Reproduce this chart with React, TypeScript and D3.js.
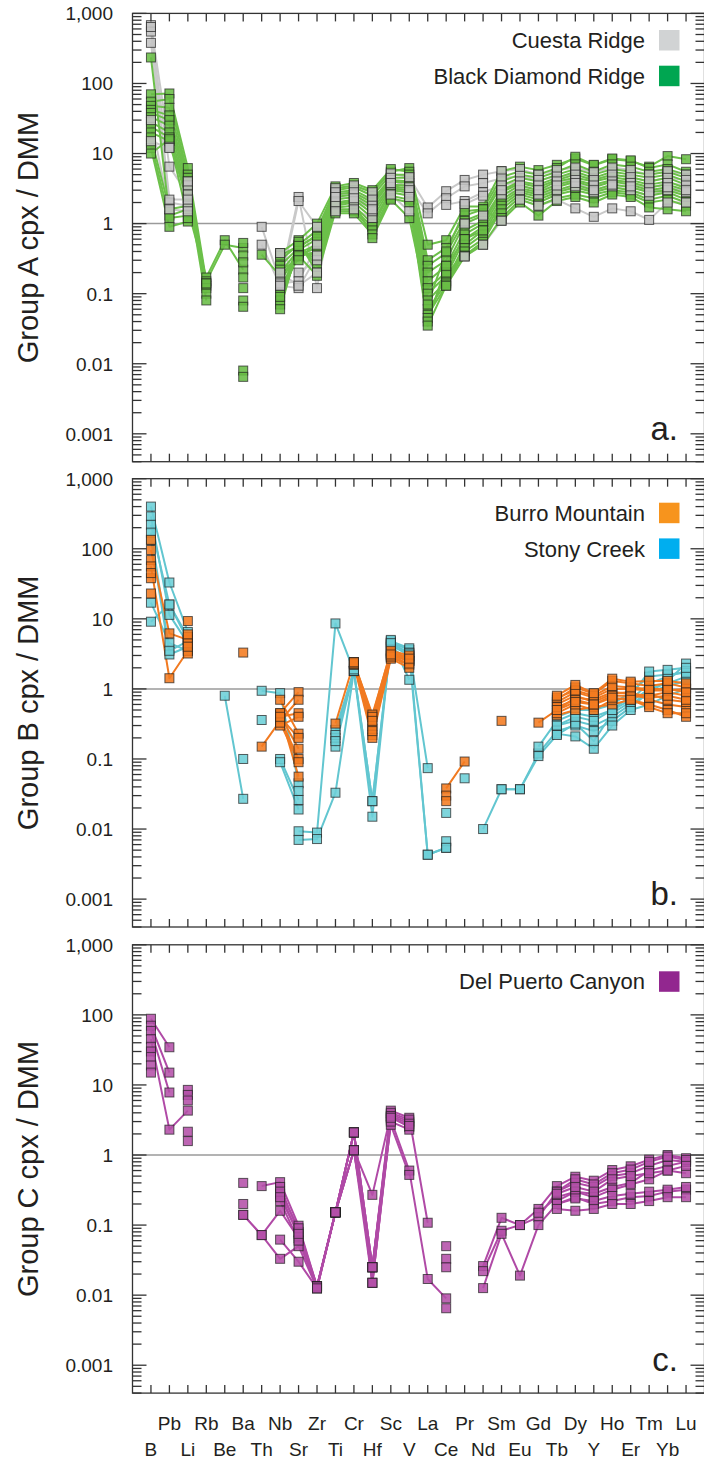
import React from "react";
import * as d3 from "d3";

// Clinopyroxene trace-element patterns normalised to depleted MORB mantle (DMM)
const _ = null;

const ELEMENTS = ["B", "Pb", "Li", "Rb", "Be", "Ba", "Th", "Nb", "Sr", "Zr", "Ti", "Cr", "Hf", "Sc", "V",
  "La", "Ce", "Pr", "Nd", "Sm", "Eu", "Gd", "Tb", "Dy", "Y", "Ho", "Er", "Tm", "Yb", "Lu"];

const Y_TICKS = [1000, 100, 10, 1, 0.1, 0.01, 0.001];
const Y_TICK_LABELS = ["1,000", "100", "10", "1", "0.1", "0.01", "0.001"];

// Group A
const CUESTA_RIDGE: (number | null)[][] = [
  [680, 12.5, 3.5, _, _, _, 0.9, 0.15, 2.4, 0.12, 3.2, 3.5, 2.8, 5.2, 4.6, 1.7, 2.9, 4.2, 5.0, 5.6, 6.0, 5.0, 5.8, 6.3, 5.4, 6.3, 5.8, 5.0, 5.6, 5.0],
  [550, 6.5, 2.6, _, _, _, 0.5, 0.13, 2.1, 0.9, 2.6, 2.6, 2.2, 4.2, 3.3, 1.4, 2.3, 3.4, 3.8, 4.4, 4.8, 4.2, 4.7, 5.0, 4.2, 5.0, 4.6, 4.0, 4.5, 4.2],
  [380, 2.0, 1.8, _, _, _, _, 0.38, 0.2, 0.3, 2.0, 2.1, 1.8, 3.6, 2.8, _, 1.85, 2.1, 2.8, 3.5, 4.0, 3.5, 4.0, 4.2, 3.5, 4.0, 3.8, 3.2, 3.8, 3.5],
  [30, 1.6, 1.5, _, _, _, _, 0.14, 0.15, 0.5, 1.5, 1.6, 1.2, 2.6, 1.5, _, _, 0.34, 0.5, 1.1, 2.2, 1.8, 2.2, 1.65, 1.25, 1.65, 1.5, 1.13, 2.0, 2.0],
  [15, 12, 4.0, _, _, _, _, 0.13, 0.12, 0.35, 2.8, 2.8, 1.5, 4.5, 3.0, _, _, 1.0, 1.3, 2.6, 3.0, 2.6, 3.0, 3.4, 2.8, 3.4, 3.0, 2.5, 3.0, 2.8],
  [640, 2.2, 2.2, _, _, _, _, 0.2, 0.13, 0.2, 2.4, 2.3, 1.6, 3.8, 2.4, _, _, 1.9, 2.5, 3.0, 3.5, 3.0, 3.5, 3.8, 3.0, 3.6, 3.4, 2.8, 3.3, 3.0],
];

const BLACK_DIAMOND_RIDGE: (number | null)[][] = [
  [235, 1.3, 1.6, 0.17, 0.58, 0.22, _, 0.3, 0.5, 0.8, 3.2, 3.5, 2.8, 5.5, 6.2, 0.5, 0.58, 1.75, 1.75, 5.6, 6.5, 5.8, 6.9, 8.5, 6.8, 8.3, 7.8, 6.5, 9.2, 8.3],
  [70, 72, 6.2, 0.15, 0.5, 0.45, _, 0.38, 0.58, 1.0, 3.4, 3.8, 3.0, 6.0, 5.5, 0.3, 0.45, 1.3, 1.6, 4.6, 5.6, 5.0, 6.2, 9.0, 6.9, 8.5, 8.0, 6.2, 7.0, 5.5],
  [55, 60, 5.0, 0.13, _, 0.53, _, 0.25, 0.45, 0.7, 3.0, 3.3, 2.5, 5.0, 5.0, 0.25, 0.38, 1.1, 1.4, 4.0, 5.0, 4.5, 5.5, 7.0, 5.5, 7.0, 6.5, 5.5, 6.0, 5.0],
  [48, 45, 4.5, 0.14, _, 0.35, _, 0.2, 0.42, 0.6, 2.8, 3.0, 2.2, 4.5, 4.5, 0.2, 0.3, 1.0, 1.3, 3.5, 4.5, 4.0, 5.0, 6.0, 5.0, 6.0, 5.5, 5.0, 5.5, 4.5],
  [42, 35, 4.0, 0.12, _, 0.28, _, 0.15, 0.38, 0.5, 2.6, 2.8, 2.0, 4.2, 4.0, 0.15, 0.25, 0.8, 1.1, 3.0, 4.0, 3.6, 4.5, 5.5, 4.5, 5.5, 5.0, 4.5, 5.0, 4.0],
  [38, 30, 3.5, 0.1, _, 0.17, _, 0.12, 0.36, 0.45, 2.4, 2.6, 1.8, 4.0, 3.8, 0.12, 0.2, 0.7, 1.0, 2.8, 3.8, 3.3, 4.2, 5.0, 4.2, 5.0, 4.6, 4.0, 4.5, 3.6],
  [33, 25, 3.0, 0.08, _, 0.12, _, 0.1, 0.34, 0.4, 2.2, 2.4, 1.6, 3.6, 3.5, 0.1, 0.18, 0.6, 0.9, 2.5, 3.5, 3.0, 4.0, 4.5, 4.0, 4.6, 4.2, 3.6, 4.0, 3.2],
  [28, 20, 2.7, 0.14, _, 0.08, _, 0.08, 0.4, 0.35, 2.0, 2.2, 1.4, 3.4, 3.2, 0.08, 0.15, 0.5, 0.8, 2.2, 3.2, 2.8, 3.6, 4.2, 3.6, 4.2, 3.9, 3.3, 3.6, 3.0],
  [24, 17, 2.3, _, _, 0.065, _, 0.07, 0.45, 0.3, 1.8, 2.0, 1.2, 3.2, 3.0, 0.06, 0.14, 0.45, 0.7, 2.0, 3.0, 2.6, 3.3, 4.0, 3.3, 4.0, 3.6, 3.0, 3.3, 2.7],
  [20, 15, 2.0, _, _, 0.008, _, 0.06, 0.5, 0.25, 1.7, 1.8, 1.0, 3.0, 2.8, 0.05, 0.13, 0.4, 0.6, 1.8, 2.8, 2.4, 3.0, 3.6, 3.0, 3.6, 3.3, 2.8, 3.0, 2.5],
  [17, 1.6, 1.8, _, _, 0.0065, _, 0.09, 0.55, 0.2, 1.6, 1.6, 0.9, 2.8, 2.5, 0.045, 0.2, 0.35, 0.55, 1.6, 2.6, 2.2, 2.8, 3.3, 2.8, 3.3, 3.0, 2.5, 2.8, 2.2],
  [14, 1.2, 1.3, _, _, _, 0.36, 0.18, 0.35, 0.18, 1.5, 1.5, 0.8, 2.5, 2.2, 0.04, 0.25, 0.6, 0.8, 1.4, 2.4, 2.0, 2.6, 3.0, 2.6, 3.0, 2.8, 2.2, 2.5, 2.0],
  [12, 0.9, 1.07, _, _, _, _, 0.22, 0.3, 0.55, 1.4, 1.4, 0.7, 2.3, 2.0, 0.035, 0.13, 0.34, 0.5, 1.2, 2.2, 1.8, 2.3, 2.6, 2.3, 2.8, 2.6, 2.0, 2.2, 1.8],
  [10, 16, 1.2, _, _, _, _, 0.35, 0.48, 0.65, 1.9, 2.1, 0.62, 2.2, 1.2, 0.07, 0.4, 1.5, 1.6, 1.1, 2.0, 1.3, 2.1, 2.4, 2.0, 2.6, 2.4, 1.7, 1.6, 1.5],
];

// Group B
const BURRO_MOUNTAIN: (number | null)[][] = [
  [134, _, _, _, _, 3.3, _, 0.45, 0.9, _, 0.32, 2.4, 0.43, 3.3, 2.8, _, 0.038, 0.092, _, 0.35, _, 0.33, 0.5, 0.75, 0.7, 0.9, 0.85, 0.8, 0.9, 0.8],
  [96, 6.2, 5.0, _, _, _, 0.15, 0.35, 0.7, _, _, 2.3, 0.27, 3.0, 2.5, _, 0.03, _, _, _, _, _, 0.7, 1.05, 0.85, 1.3, 1.2, 1.1, 1.2, 1.05],
  [69, _, 5.5, _, _, _, _, 0.4, 0.45, _, _, 2.4, 0.22, 2.8, 2.2, _, 0.025, _, _, _, _, _, 0.6, 0.8, 0.65, 0.85, 0.9, 0.7, 0.6, 0.55],
  [56, 1.42, 3.5, _, _, _, _, 0.3, 0.4, _, _, 2.2, 0.2, 2.7, 2.0, _, _, _, _, _, _, _, 0.42, 0.5, 0.55, 0.6, 0.7, 0.6, 0.5, 0.4],
  [38, _, 9.3, _, _, _, _, 0.7, 0.23, _, _, 2.3, 0.3, 3.2, 2.6, _, _, _, _, _, _, _, 0.45, 0.6, 0.5, 0.7, 0.75, 0.85, 0.7, 0.65],
  [23, _, 4.5, _, _, _, _, 0.42, 0.14, _, _, 2.4, 0.4, 3.5, 3.0, _, _, _, _, _, _, _, 0.65, 0.9, 0.75, 1.0, 1.0, 0.95, 0.95, 1.0],
  [45, _, 6.0, _, _, _, _, 0.38, 0.1, _, _, 2.3, 0.25, 2.9, 2.3, _, _, _, _, _, _, _, 0.55, 0.7, 0.6, 0.8, 0.8, 0.75, 0.8, 0.7],
  [_, _, 3.2, _, _, _, _, 0.45, 0.056, _, _, 2.4, 0.35, 3.1, 2.7, _, _, _, _, _, _, _, 0.75, 0.95, 0.8, 1.1, 1.05, 1.0, 1.0, 0.9],
  [_, _, 4.0, _, _, _, _, 0.33, 0.09, _, _, _, _, _, _, _, _, _, _, _, _, _, 0.8, 1.14, 0.87, 1.4, 1.27, 1.3, 1.3, 1.2],
  [_, _, _, _, _, _, _, 0.4, 0.2, _, _, _, _, _, _, _, _, _, _, _, _, _, 0.5, 0.65, 0.6, 0.75, 0.7, 0.55, 0.45, 0.45],
];

const STONY_CREEK: (number | null)[][] = [
  [400, 33, 6.5, _, _, _, _, _, 0.0093, 0.0089, 8.6, 1.8, 0.025, 4.6, 3.6, 0.074, _, 0.053, _, _, _, _, 0.3, 0.35, 0.3, 0.4, 0.6, 0.9, 1.1, 1.3],
  [290, 11.4, 4.5, _, _, _, 0.94, 0.87, 0.045, _, 0.26, 1.8, 0.015, 4.8, 3.8, 0.0043, 0.0054, _, 0.01, 0.037, 0.037, 0.12, 0.25, 0.3, 0.25, 0.35, 0.55, 0.9, 1.3, 2.3],
  [220, 16, 5.5, _, 0.8, 0.027, _, 0.1, 0.026, _, 0.2, 1.8, _, 4.2, 3.0, _, _, _, _, _, _, 0.15, 0.35, 0.45, 0.4, 0.5, 0.7, 1.2, 1.5, 1.8],
  [134, 3.1, 4.0, _, _, 0.1, _, 0.09, 0.019, _, 0.15, 1.8, _, 4.0, 2.5, _, 0.0067, _, _, _, _, _, 0.23, 0.21, 0.14, 0.3, 0.5, 0.6, 0.8, 1.0],
  [17, 4.5, 3.5, _, _, _, 0.36, _, 0.007, 0.0072, 0.033, 1.8, 0.025, 4.4, 3.3, _, 0.017, _, _, 0.037, 0.037, 0.11, 0.22, 0.32, 0.18, 0.45, 0.65, 1.0, 1.2, 1.5],
  [9.1, 16, 5.0, _, _, _, _, _, 0.035, _, 0.22, 1.8, _, 5.0, 1.35, _, _, _, _, _, _, _, 0.4, 0.5, 0.5, 0.6, 0.9, 1.5, 1.6, 1.7],
  [170, 3.5, 4.8, _, _, _, _, _, _, _, 0.18, 1.9, _, 4.5, 3.2, 0.0043, 0.0054, _, _, _, _, _, 0.3, 0.4, 0.35, 0.5, 0.8, 1.77, 1.87, 2.0],
];

// Group C
const DEL_PUERTO_CANYON: (number | null)[][] = [
  [88, 34.5, _, _, _, _, 0.36, 0.41, 0.098, 0.0133, 0.152, 2.1, 0.025, 4.3, 3.4, 0.108, _, _, 0.026, 0.127, 0.1, 0.17, 0.36, 0.49, 0.43, 0.61, 0.69, 0.86, 1.0, 0.9],
  [70, 15, _, _, _, 0.14, 0.072, 0.16, 0.065, 0.0133, 0.152, 1.17, 0.27, 3.8, 3.0, _, 0.05, _, 0.022, 0.083, 0.1, 0.13, 0.3, 0.4, 0.35, 0.5, 0.55, 0.7, 0.85, 0.8],
  [59, 7.8, _, _, _, 0.14, 0.072, 0.033, 0.05, 0.0125, 0.152, 1.17, 0.015, 3.2, 0.6, 0.017, 0.009, _, 0.0126, 0.075, 0.019, 0.1, 0.2, 0.25, 0.2, 0.22, 0.25, 0.26, 0.3, 0.32],
  [45, 2.3, 4.3, _, _, _, _, 0.35, 0.08, 0.0133, 0.152, 2.1, 0.025, 2.7, 0.52, _, 0.0065, _, _, _, _, 0.15, 0.25, 0.3, 0.28, 0.35, 0.4, 0.6, 0.7, 0.8],
  [35, _, 8.5, _, _, 0.4, _, 0.28, 0.07, 0.0133, 0.152, 2.1, 0.025, 4.0, 3.2, _, 0.033, _, _, _, _, _, 0.22, 0.3, 0.25, 0.32, 0.38, 0.45, 0.6, 0.55],
  [30, _, 7.2, _, _, 0.2, _, 0.22, 0.06, 0.0133, 0.152, 1.17, 0.025, 3.5, 2.5, _, 0.025, _, _, _, _, _, 0.2, 0.24, 0.22, 0.26, 0.28, 0.3, 0.32, 0.35],
  [25, _, 6.0, _, _, _, _, 0.062, 0.03, 0.0125, 0.152, 2.1, 0.015, 3.0, 2.3, _, _, _, _, _, _, _, 0.17, 0.16, 0.17, 0.2, 0.2, 0.22, 0.25, 0.25],
  [19, _, 2.15, _, _, _, _, 0.3, 0.09, 0.0133, 0.152, 1.17, 0.025, 3.6, 2.8, _, _, _, _, _, _, _, 0.3, 0.45, 0.38, 0.55, 0.62, 0.8, 0.95, 0.85],
  [15, _, 1.58, _, _, _, _, 0.25, 0.075, 0.0125, 0.152, 2.1, 0.015, 3.4, 2.6, _, _, _, _, _, _, _, 0.28, 0.35, 0.3, 0.45, 0.5, 0.55, 0.6, 0.7],
];

type Series = { name: string; swatch: string; line: string; fill: string; data: (number | null)[][] };

const FONT = "'Liberation Sans', Arial, Helvetica, sans-serif";
const INK = "#231f20";

const X0 = 132.5;
const X1 = 704.5;
const PANEL_H = 448.3;

const x = d3.scaleLinear().domain([-1, 30]).range([X0, X1]);

const panels: {
  top: number; title: string; letter: string; legendTop: number;
  lineOrder: Series[]; markerOrder: Series[]; legend: Series[];
}[] = (() => {
  const cuesta: Series = { name: "Cuesta Ridge", swatch: "#d1d3d4", line: "#c9c9c9", fill: "#c4c4c4", data: CUESTA_RIDGE };
  const bdr: Series = { name: "Black Diamond Ridge", swatch: "#00a651", line: "#6cc04a", fill: "#69bd45", data: BLACK_DIAMOND_RIDGE };
  const burro: Series = { name: "Burro Mountain", swatch: "#f7941d", line: "#f17a21", fill: "#f47b20", data: BURRO_MOUNTAIN };
  const stony: Series = { name: "Stony Creek", swatch: "#00aeef", line: "#62c6d0", fill: "#6ccfd7", data: STONY_CREEK };
  const dpc: Series = { name: "Del Puerto Canyon", swatch: "#92278f", line: "#b04aa6", fill: "#b450a8", data: DEL_PUERTO_CANYON };
  return [
    { top: 13.4, title: "Group A cpx / DMM", letter: "a.", legendTop: 16.6, lineOrder: [cuesta, bdr], markerOrder: [bdr, cuesta], legend: [cuesta, bdr] },
    { top: 478.7, title: "Group B cpx / DMM", letter: "b.", legendTop: 24, lineOrder: [stony, burro], markerOrder: [stony, burro], legend: [burro, stony] },
    { top: 944.8, title: "Group C cpx / DMM", letter: "c.", legendTop: 26.5, lineOrder: [dpc], markerOrder: [dpc], legend: [dpc] },
  ];
})();

const MINOR_TICKS: number[] = [];
for (let k = -4; k <= 2; k++) {
  for (let m = 2; m <= 9; m++) {
    const v = m * Math.pow(10, k);
    if (v >= 0.0004 && v < 1000) MINOR_TICKS.push(v);
  }
}

function Panel({ p }: { p: (typeof panels)[number] }) {
  const y = d3.scaleLog().domain([0.0004, 1000]).range([p.top + PANEL_H, p.top]);
  const bottom = p.top + PANEL_H;
  const line = d3
    .line<number | null>()
    .defined((v) => v != null)
    .x((_v, i) => x(i))
    .y((v) => y(v as number));
  const markerSize = 9;

  return (
    <g>
      {/* reference line at unity */}
      <line x1={X0} x2={X1} y1={y(1)} y2={y(1)} stroke="#9a9a9a" strokeWidth={1.5} />

      {/* sample profiles */}
      {p.lineOrder.map((s) => (
        <g key={s.name + "-lines"} fill="none" stroke={s.line} strokeWidth={2} strokeLinejoin="round">
          {s.data.map((row, i) => (
            <path key={i} d={line(row) || ""} />
          ))}
        </g>
      ))}
      {p.markerOrder.map((s) => (
        <g key={s.name + "-pts"} fill={s.fill} fillOpacity={0.88} stroke="#1e1e1e" strokeOpacity={0.7} strokeWidth={1}>
          {s.data.map((row, i) =>
            row.map((v, j) =>
              v == null ? null : (
                <rect key={i + "-" + j} x={x(j) - markerSize / 2} y={y(v) - markerSize / 2} width={markerSize} height={markerSize} />
              )
            )
          )}
        </g>
      ))}

      {/* frame and ticks */}
      <g stroke="#333" strokeWidth={1.3}>
        {Y_TICKS.map((t) => (
          <g key={"maj" + t}>
            <line x1={X0} x2={X0 + 14} y1={y(t)} y2={y(t)} />
            <line x1={X1} x2={X1 - 14} y1={y(t)} y2={y(t)} />
          </g>
        ))}
        {MINOR_TICKS.map((t) => (
          <g key={"min" + t}>
            <line x1={X0} x2={X0 + 9} y1={y(t)} y2={y(t)} />
            <line x1={X1} x2={X1 - 9} y1={y(t)} y2={y(t)} />
          </g>
        ))}
        {ELEMENTS.map((e, i) => (
          <g key={"xt" + e}>
            <line x1={x(i)} x2={x(i)} y1={p.top} y2={p.top + 8} />
            <line x1={x(i)} x2={x(i)} y1={bottom} y2={bottom - 8} />
          </g>
        ))}
        <rect x={X0} y={p.top} width={X1 - X0} height={PANEL_H} fill="none" />
      </g>

      {/* y tick labels */}
      {Y_TICKS.map((t, i) => (
        <text key={"yl" + t} x={113} y={y(t)} dy="0.36em" textAnchor="end" fontSize={19} fontFamily={FONT} fill={INK}>
          {Y_TICK_LABELS[i]}
        </text>
      ))}

      {/* axis title */}
      <text
        transform={`translate(28,${p.top + PANEL_H / 2}) rotate(-90)`}
        textAnchor="middle"
        dy="0.36em"
        fontSize={29}
        fontFamily={FONT}
        fill={INK}
      >
        {p.title}
      </text>

      {/* legend */}
      {p.legend.map((s, i) => {
        const sy = p.top + p.legendTop + i * 35.7;
        return (
          <g key={"lg" + s.name}>
            <rect x={659} y={sy} width={20.5} height={20.5} fill={s.swatch} />
            <text x={645} y={sy + 10.25} dy="0.36em" textAnchor="end" fontSize={22} fontFamily={FONT} fill={INK}>
              {s.name}
            </text>
          </g>
        );
      })}

      {/* panel letter */}
      <text x={678} y={bottom - 22} textAnchor="end" fontSize={33} fontFamily={FONT} fill={INK}>
        {p.letter}
      </text>
    </g>
  );
}

export default function App() {
  return (
    <svg width={704} height={1464} style={{ position: "absolute", left: 0, top: 0, background: "#fff" }}>
      <rect x={0} y={0} width={704} height={1464} fill="#fff" />
      {panels.map((p) => (
        <Panel key={p.letter} p={p} />
      ))}
      {ELEMENTS.map((e, i) => (
        <text
          key={"xl" + e}
          x={x(i)}
          y={i % 2 === 1 ? 1430 : 1455.5}
          textAnchor="middle"
          fontSize={19}
          fontFamily={FONT}
          fill={INK}
        >
          {e}
        </text>
      ))}
    </svg>
  );
}
